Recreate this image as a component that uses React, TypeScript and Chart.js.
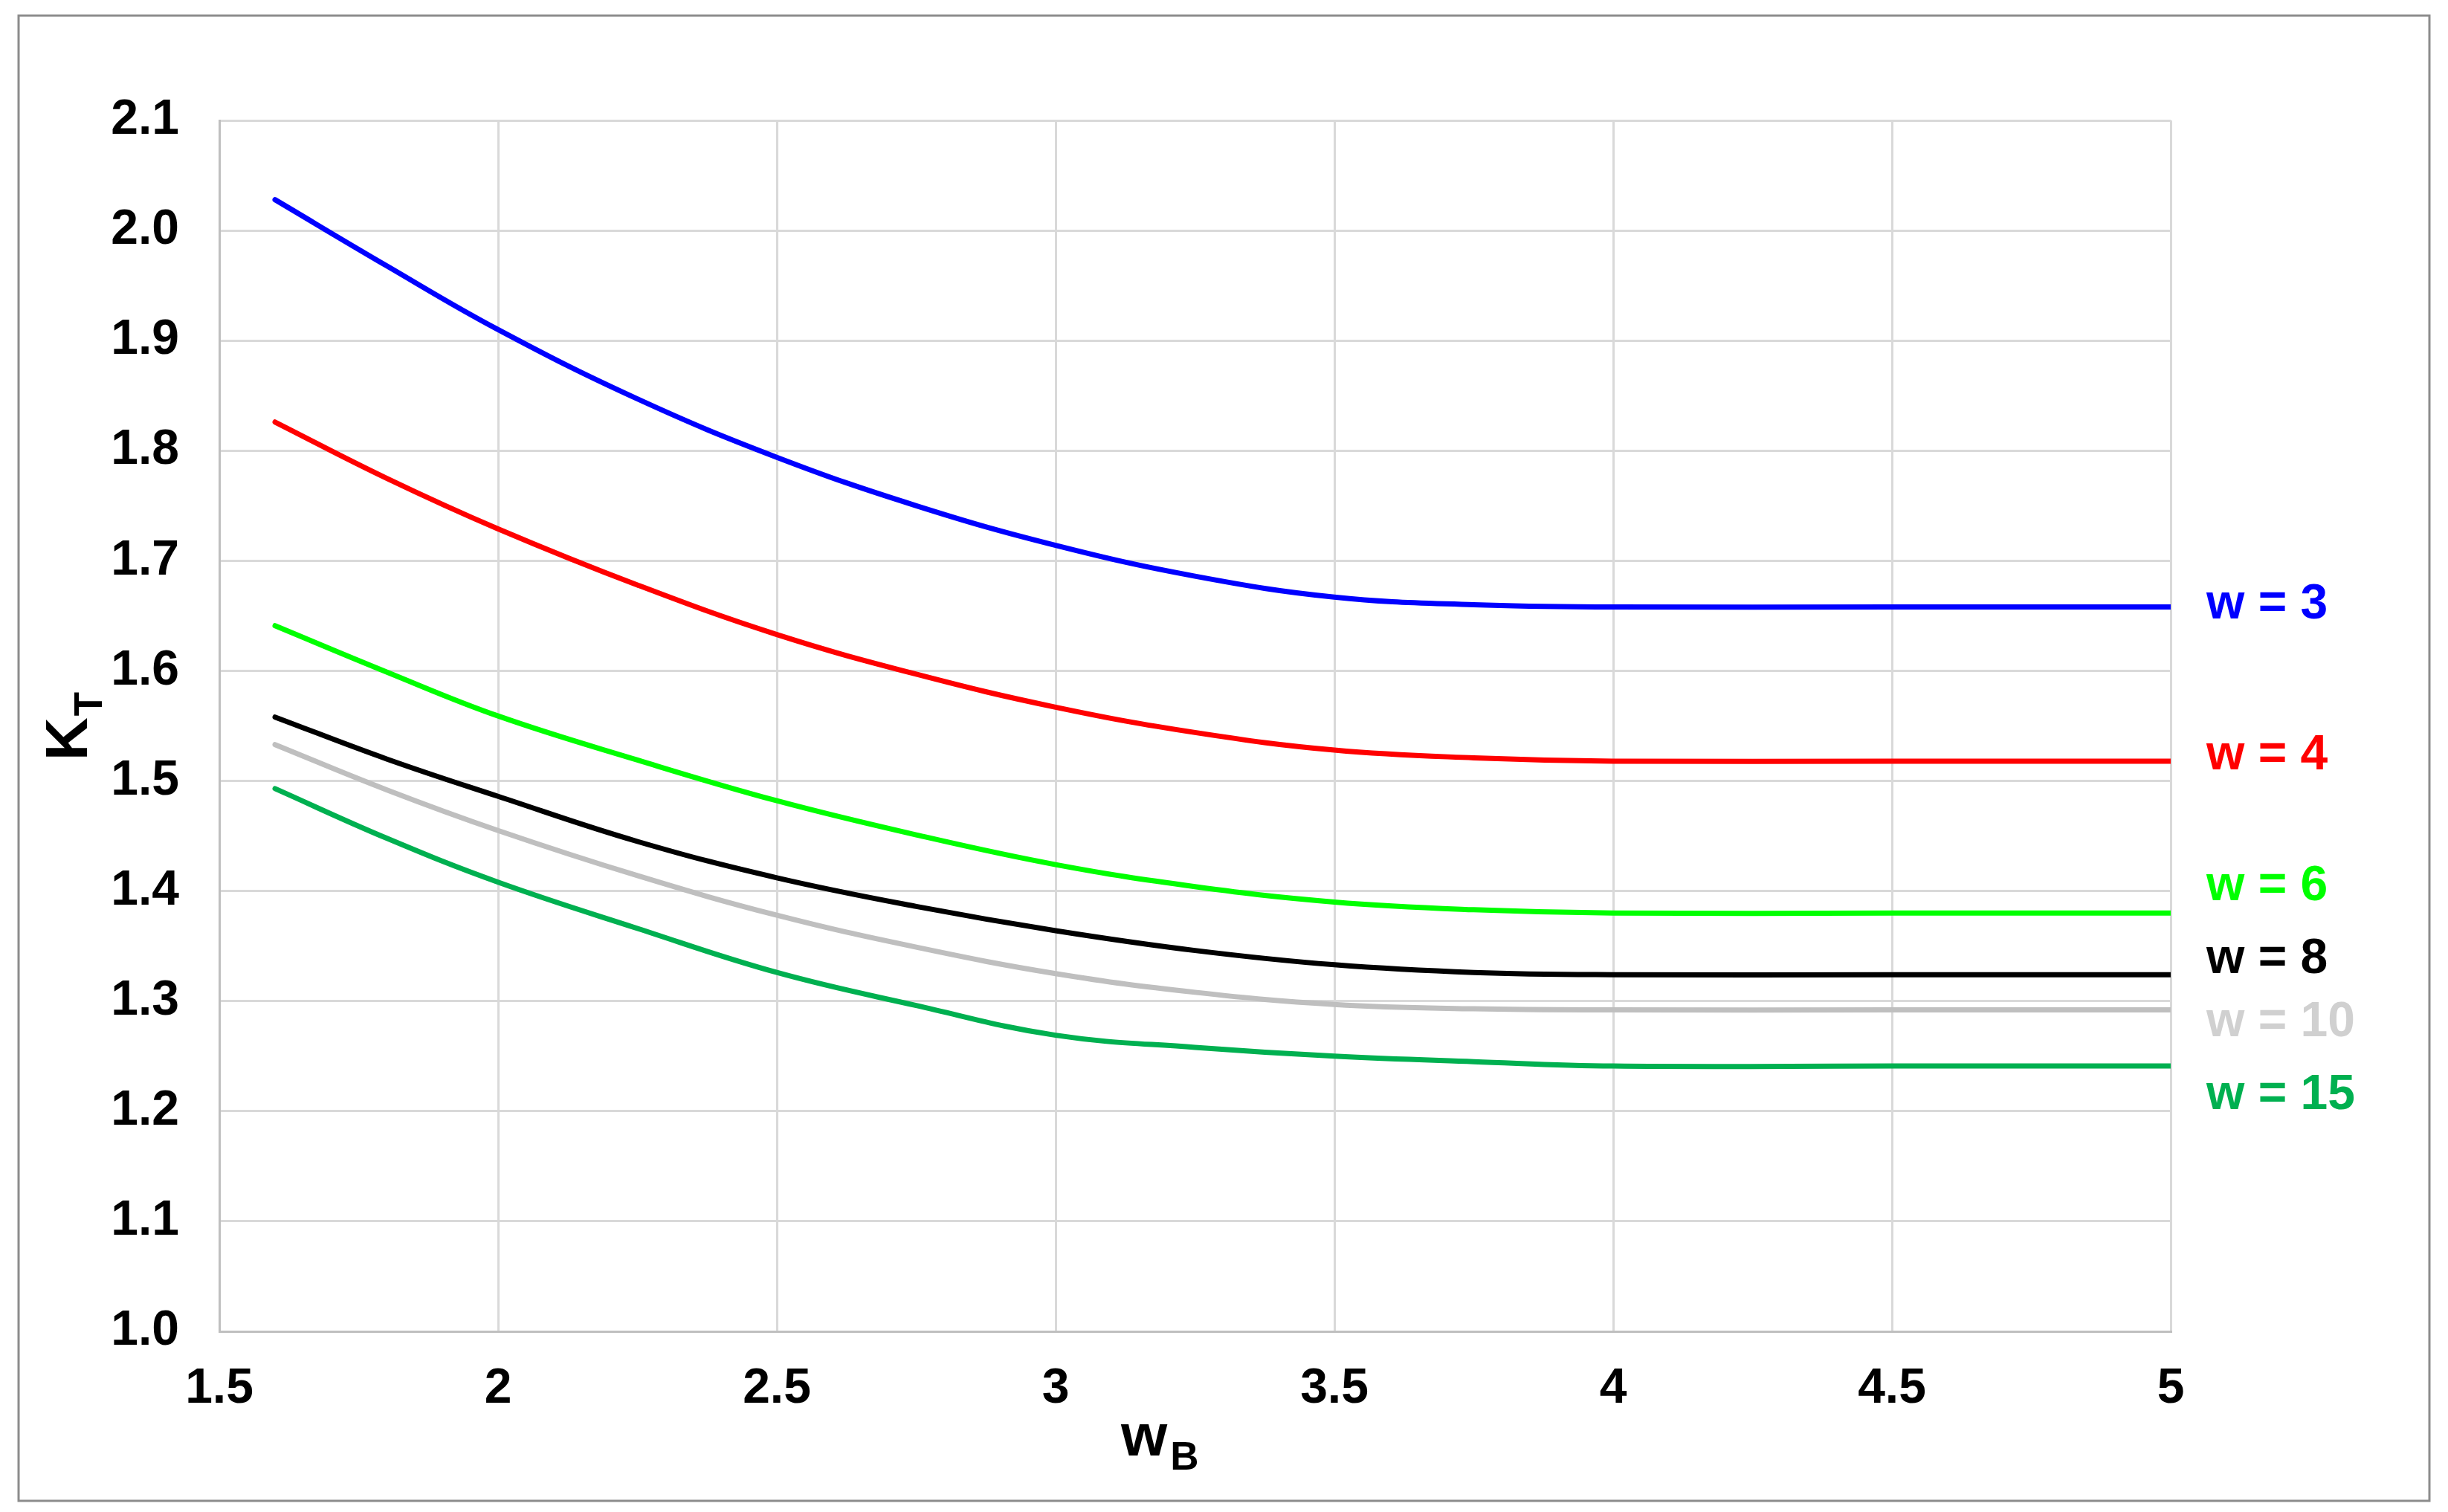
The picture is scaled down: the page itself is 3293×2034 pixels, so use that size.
import React, { useEffect, useRef } from "react";
import { Chart, registerables } from "chart.js";

Chart.register(...registerables);

const W = 3293;
const H = 2034;

const xValues = [1.6, 1.8, 2.0, 2.25, 2.5, 2.75, 3.0, 3.25, 3.5, 3.75, 4.0, 4.5, 5.0];

const kt_w3 = [2.028, 1.968, 1.910, 1.847, 1.794, 1.750, 1.714, 1.686, 1.667, 1.660, 1.658, 1.658, 1.658];
const kt_w4 = [1.826, 1.775, 1.729, 1.678, 1.633, 1.597, 1.567, 1.544, 1.528, 1.521, 1.518, 1.518, 1.518];
const kt_w6 = [1.641, 1.599, 1.559, 1.519, 1.482, 1.451, 1.424, 1.404, 1.390, 1.383, 1.380, 1.380, 1.380];
const kt_w8 = [1.558, 1.520, 1.486, 1.445, 1.412, 1.386, 1.364, 1.346, 1.333, 1.326, 1.324, 1.324, 1.324];
const kt_w10 = [1.533, 1.492, 1.455, 1.414, 1.378, 1.349, 1.325, 1.308, 1.297, 1.293, 1.292, 1.292, 1.292];
const kt_w15 = [1.493, 1.448, 1.408, 1.366, 1.326, 1.296, 1.269, 1.258, 1.250, 1.245, 1.241, 1.241, 1.241];

const seriesLabels = ["w = 3", "w = 4", "w = 6", "w = 8", "w = 10", "w = 15"];
const seriesValues = [kt_w3, kt_w4, kt_w6, kt_w8, kt_w10, kt_w15];
const lineColors = ["#0000FF", "#FF0000", "#00FF00", "#000000", "#BFBFBF", "#00B050"];
const labelColors = ["#0000FF", "#FF0000", "#00FF00", "#000000", "#D0D0D0", "#00B050"];
// K_T value at which each end label is centred
const labelAnchors = [1.664, 1.527, 1.408, 1.342, 1.284, 1.218];

const xTitle = "w";
const xTitleSub = "B";
const yTitle = "K";
const yTitleSub = "T";

const FONT = '"Liberation Sans", Arial, sans-serif';

const decorPlugin = {
  id: "decor",
  beforeDraw(chart: any) {
    const ctx = chart.ctx;
    ctx.save();
    ctx.fillStyle = "#FFFFFF";
    ctx.fillRect(0, 0, W, H);
    ctx.strokeStyle = "#8C8C8C";
    ctx.lineWidth = 3;
    ctx.strokeRect(25, 21, 3268 - 25, 2019 - 21);
    ctx.restore();
  },
  afterDraw(chart: any) {
    const ctx = chart.ctx;
    const area = chart.chartArea;
    const yScale = chart.scales.y;
    ctx.save();
    ctx.font = `bold 66px ${FONT}`;
    ctx.textAlign = "left";
    ctx.textBaseline = "alphabetic";
    seriesLabels.forEach((lab, i) => {
      const py = yScale.getPixelForValue(labelAnchors[i]);
      ctx.fillStyle = labelColors[i];
      ctx.fillText(lab, area.right + 48, py + 24);
    });
    ctx.fillStyle = "#000000";
    ctx.font = `bold 80px ${FONT}`;
    const xw = ctx.measureText(xTitle).width;
    ctx.fillText(xTitle, 1508, 1958);
    ctx.font = `bold 53px ${FONT}`;
    ctx.fillText(xTitleSub, 1508 + xw + 4, 1977);
    ctx.translate(117, 1023);
    ctx.rotate(-Math.PI / 2);
    ctx.font = `bold 80px ${FONT}`;
    const kw = ctx.measureText(yTitle).width;
    ctx.fillText(yTitle, 0, 0);
    ctx.font = `bold 53px ${FONT}`;
    ctx.fillText(yTitleSub, kw + 2, 20);
    ctx.restore();
  },
};

export default function App() {
  const canvasRef = useRef<HTMLCanvasElement | null>(null);

  useEffect(() => {
    if (!canvasRef.current) return;
    const datasets = seriesValues.map((vals, i) => ({
      label: seriesLabels[i],
      data: xValues.map((x, j) => ({ x, y: vals[j] })),
      borderColor: lineColors[i],
      backgroundColor: lineColors[i],
      borderWidth: 7,
      borderCapStyle: "round" as const,
      borderJoinStyle: "round" as const,
      pointRadius: 0,
      showLine: true,
      fill: false,
      tension: 0.4,
    }));

    const chart = new Chart(canvasRef.current, {
      type: "scatter",
      data: { datasets },
      options: {
        animation: false,
        responsive: false,
        devicePixelRatio: 1,
        layout: { padding: { top: 162, right: 373, left: 0, bottom: 0 } },
        plugins: {
          legend: { display: false },
          tooltip: { enabled: false },
          title: { display: false },
        },
        scales: {
          x: {
            type: "linear",
            min: 1.5,
            max: 5,
            afterFit: (scale: any) => {
              scale.height = 243;
            },
            ticks: {
              stepSize: 0.5,
              autoSkip: false,
              maxRotation: 0,
              padding: 38,
              color: "#000000",
              font: { family: FONT, size: 66, weight: "bold" },
              callback: (v: any) => String(Number(v)),
            },
            grid: { color: "#D9D9D9", lineWidth: 3, drawTicks: false },
            border: { color: "#BFBFBF", width: 3 },
          },
          y: {
            type: "linear",
            min: 1.0,
            max: 2.1,
            afterFit: (scale: any) => {
              scale.width = 295;
            },
            ticks: {
              stepSize: 0.1,
              autoSkip: false,
              padding: 54,
              color: "#000000",
              font: { family: FONT, size: 66, weight: "bold" },
              callback: (v: any) => Number(v).toFixed(1),
            },
            grid: { color: "#D9D9D9", lineWidth: 3, drawTicks: false },
            border: { color: "#BFBFBF", width: 3 },
          },
        },
      },
      plugins: [decorPlugin],
    });
    return () => chart.destroy();
  }, []);

  return (
    <div style={{ position: "absolute", left: 0, top: 0, width: W, height: H, background: "#FFFFFF" }}>
      <canvas ref={canvasRef} width={W} height={H} style={{ width: W, height: H, display: "block" }} />
    </div>
  );
}
